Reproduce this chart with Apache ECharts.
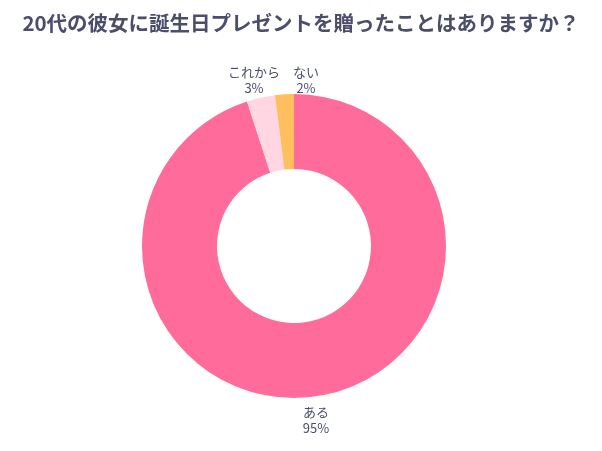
<!DOCTYPE html>
<html><head><meta charset="utf-8">
<script src="https://cdn.jsdelivr.net/npm/echarts@6/dist/echarts.min.js"></script>
<style>body{margin:0}#c{width:602px;height:451px}</style></head>
<body><div id="c"></div>
<script>
const categories = ['ある', 'これから', 'ない'];
const values = [95, 3, 2];
const colors = ['#FF6B9A', '#FFD6E2', '#FFBF5F'];
// label anchor positions (x, y)
const labelPos = [[316, 420], [254, 80], [306, 80]];

const chart = echarts.init(document.getElementById('c'));
chart.setOption({
    title: {
        text: '20代の彼女に誕生日プレゼントを贈ったことはありますか？',
        left: 'center',
        top: 8,
        textStyle: { fontFamily: 'Noto Sans CJK JP', fontSize: 20.5, fontWeight: 'bold', color: '#4a4e6a' }
    },
    series: [{
        type: 'pie',
        center: [294, 246],
        radius: [77, 152],
        startAngle: 90,
        clockwise: true,
        animation: false,
        label: {
            show: true,
            position: 'outside',
            formatter: '{b}\n{c}%',
            fontFamily: 'Noto Sans CJK JP',
            fontSize: 13,
            lineHeight: 16,
            color: '#4a4e6a',
            align: 'center'
        },
        labelLine: { show: false },
        labelLayout: p => ({
            x: labelPos[p.dataIndex][0],
            y: labelPos[p.dataIndex][1],
            align: 'center',
            verticalAlign: 'middle'
        }),
        data: categories.map((c, i) => ({ name: c, value: values[i], itemStyle: { color: colors[i] } }))
    }]
});
</script></body></html>
